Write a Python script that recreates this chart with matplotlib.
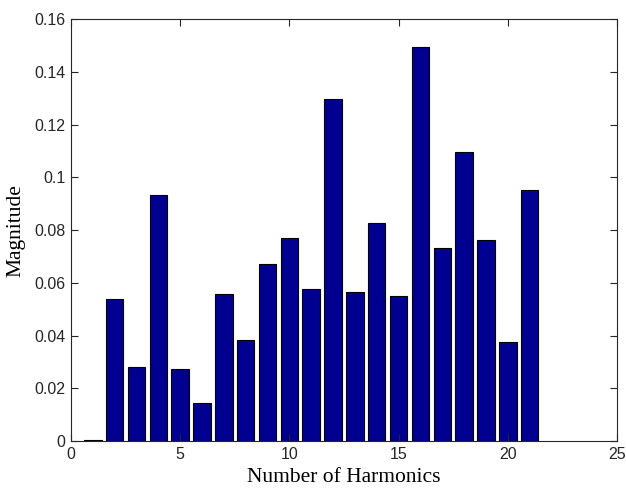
import numpy as np
import matplotlib
matplotlib.use("Agg")
import matplotlib.pyplot as plt

# harmonic order and magnitude
harmonics = list(range(1, 22))
magnitude = [0.0004, 0.0537, 0.0281, 0.0934, 0.0274, 0.0145, 0.0556,
             0.0382, 0.0672, 0.0771, 0.0578, 0.1299, 0.0564, 0.0828,
             0.0549, 0.1494, 0.0731, 0.1098, 0.0762, 0.0377, 0.0953]
xticks = [0, 5, 10, 15, 20, 25]
yticks = [0, 0.02, 0.04, 0.06, 0.08, 0.1, 0.12, 0.14, 0.16]
ytick_labels = ["0", "0.02", "0.04", "0.06", "0.08", "0.1", "0.12", "0.14", "0.16"]

fig = plt.figure(figsize=(6.26, 4.88), dpi=100)
ax = fig.add_axes([0.1134, 0.0963, 0.8722, 0.8642])

ax.bar(harmonics, magnitude, width=0.8, color="#000090", edgecolor="black", linewidth=0.8)

ax.set_xlim(0, 25)
ax.set_ylim(0, 0.16)
ax.set_xticks(xticks)
ax.set_xticklabels([str(t) for t in xticks], fontfamily="Liberation Sans", fontsize=11.5)
ax.set_yticks(yticks)
ax.set_yticklabels(ytick_labels, fontfamily="Liberation Sans", fontsize=11.5)
ax.tick_params(direction="in", length=5, top=True, right=True, width=0.8, colors="#262626", pad=4)
for s in ax.spines.values():
    s.set_color("#262626")
    s.set_linewidth(0.8)

ax.set_xlabel("Number of Harmonics", fontfamily="Liberation Serif", fontsize=15.5, labelpad=4.5)
ax.set_ylabel("Magnitude", fontfamily="Liberation Serif", fontsize=15.5, labelpad=6)

fig.savefig("out.png", dpi=100)
